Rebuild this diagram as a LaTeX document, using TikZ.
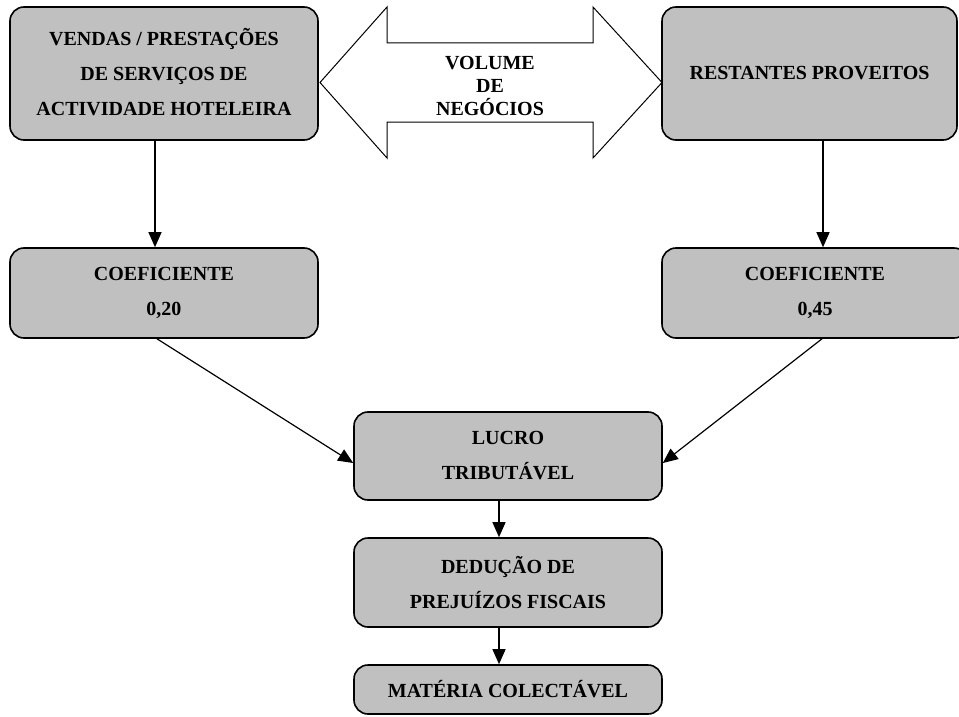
\documentclass[tikz,border=0pt]{standalone}
\usepackage{fontspec}
\setmainfont{Liberation Serif}
\usetikzlibrary{arrows.meta}
\definecolor{boxgray}{HTML}{C0C0C0}
\begin{document}
\begin{tikzpicture}[x=1pt,y=-1pt,
  box/.style={draw=black, line width=1.6pt, fill=boxgray, rounded corners=14pt,
    inner sep=0pt, align=center, font=\bfseries\fontsize{20}{35}\selectfont},
  link/.style={draw=black, line width=1.2pt, -{Triangle[length=15pt,width=13pt]}},
  bigarrow/.style={draw=black, line width=1pt, fill=white, line join=miter},
  vtext/.style={align=center, inner sep=0pt, font=\bfseries\fontsize{20}{23}\selectfont}
]
\useasboundingbox (0,0) rectangle (959,717);
\clip (0,0) rectangle (959,717);

% top row
\node[box, minimum width=308pt, minimum height=133pt] (A) at (164,73.5)
  {\raisebox{5pt}{\begin{tabular}{@{}c@{}}VENDAS / PRESTAÇÕES\\DE SERVIÇOS DE\\ACTIVIDADE HOTELEIRA\end{tabular}}};
\node[box, minimum width=295pt, minimum height=133pt] (B) at (809.5,73.5)
  {\raisebox{2pt}{RESTANTES PROVEITOS}};

% double-headed block arrow between the two sources
\draw[bigarrow] (320,82.5) -- (387,7) -- (387,43) -- (593,43) -- (593,7)
  -- (662,82.5) -- (593,158) -- (593,122) -- (387,122) -- (387,158) -- cycle;
\node[vtext] (vol) at (490,86) {VOLUME\\DE\\NEGÓCIOS};

% coefficients
\node[box, minimum width=308pt, minimum height=90pt] (C) at (164,293)
  {COEFICIENTE\\0,20};
\node[box, minimum width=306pt, minimum height=90pt] (D) at (815,293)
  {COEFICIENTE\\0,45};

% results column
\node[box, minimum width=308pt, minimum height=88pt] (E) at (508,456)
  {LUCRO\\TRIBUTÁVEL};
\node[box, minimum width=308pt, minimum height=89pt] (F) at (508,582.5)
  {DEDUÇÃO DE\\PREJUÍZOS FISCAIS};
\node[box, minimum width=308pt, minimum height=49pt] (G) at (508,689.5)
  {MATÉRIA COLECTÁVEL};

% connectors
\draw[link] ([xshift=-9pt]A.south) -- ([xshift=-9pt]C.north);
\draw[link] ([xshift=13.5pt]B.south) -- ([xshift=8pt]D.north);
\draw[link] ([xshift=-7pt]C.south) -- ([yshift=-7pt]E.west);
\draw[link] ([xshift=7pt]D.south) -- ([yshift=-7pt]E.east);
\draw[link] ([xshift=-9pt]E.south) -- ([xshift=-9pt]F.north);
\draw[link] ([xshift=-9pt]F.south) -- ([xshift=-9pt]G.north);
\end{tikzpicture}
\end{document}
